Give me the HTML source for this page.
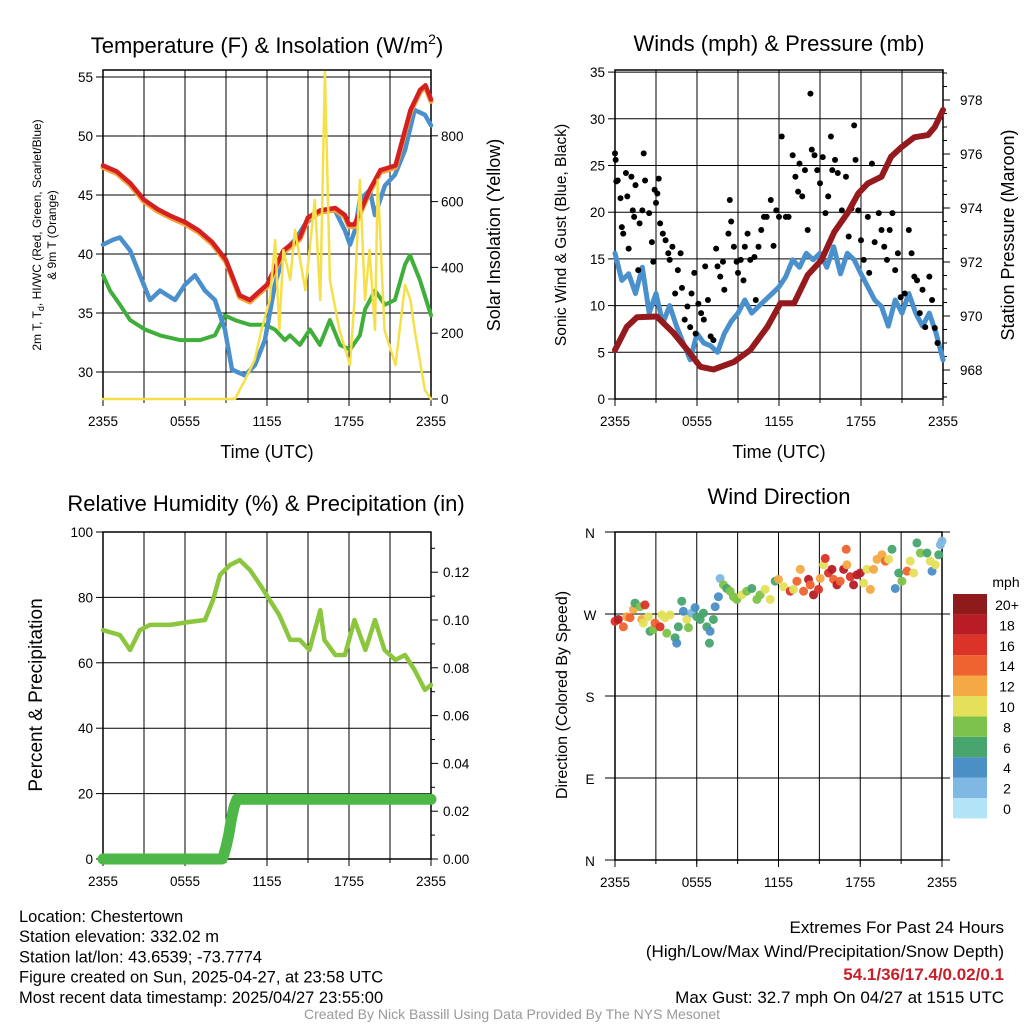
<!DOCTYPE html>
<html><head><meta charset="utf-8"><style>
body{margin:0;background:#fff;width:1024px;height:1024px;overflow:hidden;font-family:"Liberation Sans",sans-serif}
svg{display:block}
</style></head><body>
<svg id="s" width="1024" height="1024" xmlns="http://www.w3.org/2000/svg" font-family="Liberation Sans, sans-serif"></svg>
<script>
// ---- Temperature panel data (hours since 2355) ----
const redH=[0,1,2,3,4,5,6,7,8,9,10,10.75,12,13.2,14.4,15,15.9,17,17.7,18,18.4,19.5,20.3,21.4,22.5,23.2,23.6,24];
const redV=[47.5,47,46,44.6,43.8,43.2,42.7,42,41,39.5,36.5,36.1,37.4,40.3,41.4,43.1,43.7,43.9,43.3,42.5,42.5,45.4,47.1,47.5,52.2,53.9,54.3,53.1];
const blueH=[0,0.73,1.24,1.98,2.7,3.44,4.17,5.27,6,6.73,7.46,8.19,8.92,9.44,10.39,11.12,11.85,12.58,13.31,14.05,14.78,15.5,16.24,16.97,17.7,18.07,18.43,18.8,19.53,19.9,20.63,21.36,22.1,22.8,23.55,24];
const blueV=[40.8,41.2,41.4,40.3,38.2,36.1,36.9,36.1,37.4,38.2,36.9,36.1,33.6,30.2,29.7,30.6,32.7,37.4,40.3,41.2,42.5,43.3,43.7,43.7,42,40.8,42,44.6,45.4,43.3,45.8,46.7,48.8,52.2,51.8,50.9];
const greenH=[0,0.51,1.24,1.98,3.07,4.17,5.63,7.1,8.19,8.92,9.66,10.75,11.85,12.58,13.31,13.68,14.41,15.14,15.87,16.6,17.34,18.07,18.8,19.17,19.9,20.63,21.36,22.1,22.46,23.19,24];
const greenV=[38.2,36.9,35.7,34.4,33.6,33.1,32.7,32.7,33.1,34.8,34.4,34,34,33.6,32.7,33.1,32.3,33.6,32.3,34.4,32.3,31.9,33.1,35.3,36.9,35.7,36.1,39.1,39.9,37.8,34.8];
const solarH=[0,9.66,10.39,11.1,11.6,12.2,12.6,12.9,13.2,13.7,14.05,14.8,15.5,15.9,16.24,16.6,17.3,18.07,18.4,18.8,19.17,19.5,19.9,20.1,20.6,21.4,22.1,22.5,22.8,23.55,24];
const solarV=[0,0,58,119,210,301,483,210,453,362,514,331,605,301,994,362,210,103,301,666,301,453,210,666,210,103,347,301,210,27,0];
// ---- Wind panel ----
const windH=[0,0.5,1,1.5,2,2.5,3,3.5,4,4.5,5,5.5,6,6.5,7,7.5,8,8.5,9,9.5,10,10.5,11,11.5,12,12.5,13,13.5,14,14.5,15,15.5,16,16.5,17,17.5,18,18.5,19,19.5,20,20.5,21,21.5,22,22.5,23,23.5,24];
const windV=[15.6,12.7,13.4,11.3,14.1,9.2,11.3,8.1,10,7.8,6,4.2,7,6,5.7,5,7,8.3,9.2,10.6,9.2,9.9,10.6,11.3,12,13.1,14.9,14.1,15.6,14.9,15.6,14.1,16.3,13.4,15.6,14.9,13.4,12,10.6,9.9,7.8,10.6,9.2,11.3,9.2,7.8,9.2,7,4.2];
const gustH=[0,0.05,0.1,0.2,0.4,0.5,0.6,0.8,0.9,1,1.2,1.3,1.4,1.5,1.7,1.8,2,2.1,2.2,2.5,2.7,2.8,2.9,3,3.1,3.2,3.3,3.5,3.7,3.9,4,4.2,4.4,4.6,4.8,4.9,5.1,5.3,5.5,5.6,5.8,5.9,6.1,6.3,6.5,6.6,6.8,7,7.2,7.4,7.5,7.7,7.9,8,8.3,8.4,8.5,8.7,8.9,9,9.2,9.4,9.5,9.7,9.9,10.2,10.3,10.5,10.7,10.9,11.1,11.4,11.6,11.8,12,12.2,12.5,12.7,13,13.2,13.4,13.5,13.7,13.9,14.1,14.3,14.4,14.6,14.8,15,15.2,15.4,15.6,15.8,15.9,16.1,16.3,16.6,16.9,17.1,17.3,17.5,17.6,17.8,18,18.2,18.5,18.6,18.8,19,19.3,19.5,19.7,19.9,20.1,20.3,20.5,20.7,20.9,21.2,21.5,21.7,21.9,22.1,22.3,22.5,22.7,23,23.2,23.4,23.6];
const gustV=[26.3,25.6,23.3,23.4,21.5,18.4,17.7,24.2,21.7,16.1,23.8,20.2,19.5,22.9,13.8,18.8,20.2,26.3,23.4,19.9,16.8,14.7,22.4,21,22,23.6,18.8,17.7,17,15.6,14.9,16.3,11.3,13.8,15.6,11.9,8.5,9.9,7.7,11.3,13.5,7,10.2,9.2,8.5,14.2,10.6,6.7,6.3,16.1,14.2,13.1,14.7,11.7,17.7,21.3,19,16.3,14.7,13.5,14.9,12.7,16.3,17.7,14.9,15.2,10.6,16.3,18.1,19.5,19.5,21.3,16.4,20.2,19.5,28.1,19.5,19.5,26.1,23.8,22.2,25.2,21.7,24.5,18.1,32.7,26.7,26.1,24.5,23.1,25.9,19.9,21.7,28.1,24.5,25.6,24.2,20.2,23.8,17.4,20.4,29.3,25.6,20.2,17,14.9,19.5,13.5,25.2,16.8,19.9,18.1,16.3,14.9,18.1,19.9,13.8,15.6,10.9,11.3,18.1,15.6,13.1,12.7,9.2,11.7,7.7,13.1,10.6,7.6,6];
const presH=[0,0.86,1.6,3.06,4.3,5.3,6.25,7.2,8.7,9.9,11.15,12.1,13.1,14.1,15.1,16.05,17,17.8,18.5,19.5,20.2,21,21.9,22.9,23.4,24];
const presV=[968.74,969.6,969.95,969.98,969.36,968.74,968.12,968.02,968.3,968.74,969.6,970.47,970.47,971.52,972.07,973.12,973.8,974.54,974.91,975.16,975.9,976.27,976.62,976.7,977,977.63];
// ---- RH / precip ----
const rhH=[0,1.24,1.98,2.7,3.44,4.9,6.36,7.46,8.05,8.56,9.29,10,10.75,11.5,12.2,12.9,13.7,14.4,15.1,15.9,16.2,17,17.7,18.4,19.2,19.9,20.6,21.4,22.1,22.8,23.55,24];
const rhV=[70,68.5,63.9,70,71.6,71.6,72.5,73.1,79.2,86.9,89.9,91.4,88.4,83.8,79.2,74.6,67,67,63.9,76.1,67,62.4,62.4,73.1,63.9,73.1,63.9,60.9,62.4,57.8,51.7,53.2];
const prH=[0,8.7,8.8,9,9.2,9.4,9.6,9.8,24];
const prV=[0,0,0.001,0.005,0.01,0.017,0.022,0.025,0.025];
// ---- Wind direction ----
const dirH=[0,0.24,0.61,0.86,1.1,1.35,1.47,1.84,2.2,1.96,2.08,2.45,2.57,2.82,2.94,3.31,3.43,3.67,3.8,4.04,4.41,4.53,4.65,4.9,5.02,5.27,5.39,5.63,5.88,6,6.25,6.49,6.74,6.98,6.93,7.22,7.35,7.59,7.71,7.96,8.2,8.45,8.69,8.94,9.31,9.67,10.04,10.41,10.65,11.02,11.39,11.76,12,12.37,12.86,13.1,13.35,13.6,13.84,14.2,14.33,14.57,14.94,15.06,15.31,15.43,15.67,15.92,16.04,16.29,16.53,16.78,16.97,17.02,17.27,17.51,17.76,18,18.25,18.49,18.74,18.98,19.23,19.59,19.84,20.08,20.33,20.57,20.82,21.06,21.43,21.67,21.92,22.16,22.41,22.9,23.14,23.27,23.51,23.76,24,23.88];
const dirV=[262,264,256,267,266,275,282,278,280,264,260,267,251,253,260,256,269,266,249,269,244,238,256,284,273,264,255,271,277,267,264,271,256,251,238,264,278,289,309,302,298,295,289,286,291,295,298,286,291,297,286,306,308,300,295,297,306,319,295,308,302,291,297,309,324,331,315,319,308,302,306,319,341,324,311,302,313,315,304,319,297,319,330,335,328,330,341,298,315,306,317,328,315,348,337,337,328,317,324,335,350,346];
const dirS=[16,18,14,13,14,12,6,8,16,12,11,10,7,8,14,16,10,11,8,10,6,4,7,6,4,10,8,3,4,6,6,7,6,4,6,7,4,4,2,8,7,8,8,9,10,9,7,8,9,10,10,7,12,10,17,11,14,12,14,18,15,18,16,12,10,17,16,18,14,18,15,18,14,12,17,18,18,18,10,11,12,12,12,12,14,10,6,4,7,8,15,10,10,7,8,6,10,4,10,7,3,2];
const scaleLabels=["0","2","4","6","8","10","12","14","16","18","20+"];
const scaleColors=["#b3e3f7","#7fb8e2","#4a8fc6","#48a56e","#7dc24a","#e4e05a","#f5a945","#ef6330","#dc3328","#b81c25","#8e1a1c"];
const xTicks=["2355","0555","1155","1755","2355"];

const S=document.getElementById('s');
const NS='http://www.w3.org/2000/svg';
function mk(tag,attrs,parent){const e=document.createElementNS(NS,tag);for(const k in attrs)e.setAttribute(k,attrs[k]);(parent||S).appendChild(e);return e;}
function txt(x,y,s,size,anchor,parent,extra){const t=mk('text',Object.assign({x:x,y:y,'font-size':size,'text-anchor':anchor||'middle',fill:'#000'},extra||{}),parent);t.textContent=s;return t;}

function panel(name,L,T,R,B){
  const g=mk('g',{});
  
  
  const xs=h=>L+(R-L)*h/24;
  for(let i=0;i<=8;i++){const x=xs(i*3);const l=mk('line',{x1:x,x2:x,y1:T,y2:B,stroke:'#000','stroke-width':1},g);}
  xTicks.forEach((s,i)=>{const t=txt(xs(i*6),B+27,s,13.5,'middle',g);
    mk('line',{x1:xs(i*6),x2:xs(i*6),y1:B,y2:B+7,stroke:'#000'},g);});
  for(let i=0;i<=8;i++)mk('line',{x1:xs(i*3),x2:xs(i*3),y1:B,y2:B+4,stroke:'#000'},g);
  mk('rect',{x:L,y:T,width:R-L,height:B-T,fill:'none',stroke:'#000','stroke-width':1.5},g);
  return {g,xs};
}
function path(g,xs,ys,H,V,attrs,name){let d='';H.forEach((h,i)=>{d+=(i?'L':'M')+xs(h).toFixed(1)+','+ys(V[i]).toFixed(1);});
  const p=mk('path',Object.assign({d:d,fill:'none','stroke-linejoin':'round','stroke-linecap':'round'},attrs),g);
  
  return p;}

// ===== Panel 1: Temperature =====
(function(){
  const L=103,T=70,R=431,B=399;const P=panel('temperature-panel',L,T,R,B);const g=P.g,xs=P.xs;
  const ys=v=>372-(v-30)*11.8;const ysol=v=>399-v*0.329;
  [30,35,40,45,50,55].forEach(v=>{mk('line',{x1:L,x2:R,y1:ys(v),y2:ys(v),stroke:'#000'},g);mk('line',{x1:L-7,x2:L,y1:ys(v),y2:ys(v),stroke:'#000'},g);
    const t=txt(L-10,ys(v)+5,String(v),13.5,'end',g);});
  [0,200,400,600,800].forEach(v=>{mk('line',{x1:R,x2:R+7,y1:ysol(v),y2:ysol(v),stroke:'#000'},g);
    const t=txt(R+10,ysol(v)+5,String(v),13.5,'start',g);});
  path(g,xs,ys,greenH,greenV,{stroke:'#3fae3a','stroke-width':4},'green-temp-line');
  path(g,xs,ys,blueH,blueV,{stroke:'#4a90cc','stroke-width':4.5},'blue-temp-line');
  path(g,xs,v=>ys(v)+2,redH,redV,{stroke:'#f5a23a','stroke-width':5},'orange-9m-temp-line');
  path(g,xs,ys,redH,redV,{stroke:'#d42020','stroke-width':4.5},'red-2m-temp-line');
  path(g,xs,ysol,solarH,solarV,{stroke:'#f6e04a','stroke-width':2.5},'solar-insolation-line');
  const t1=mk('text',{x:267,y:53,'font-size':22,'text-anchor':'middle'},S);t1.innerHTML='Temperature (F) &amp; Insolation (W/m<tspan dy="-9" font-size="14">2</tspan><tspan dy="9">)</tspan>';
  
  const xt=txt(267,458,'Time (UTC)',18,'middle');
  const yt=mk('text',{transform:'translate(41,235) rotate(-90)','font-size':12,'text-anchor':'middle'});yt.innerHTML='2m T, T<tspan dy="3" font-size="9">d</tspan><tspan dy="-3">, HI/WC (Red, Green, Scarlet/Blue)</tspan>';
  
  const yt2=txt(0,0,'& 9m T (Orange)',12,'middle',S,{transform:'translate(56,235) rotate(-90)'});
  const yr=txt(0,0,'Solar Insolation (Yellow)',18,'middle',S,{transform:'translate(500,235) rotate(-90)'});
})();

// ===== Panel 2: Winds & Pressure =====
(function(){
  const L=615,T=70,R=943,B=399;const P=panel('wind-panel',L,T,R,B);const g=P.g,xs=P.xs;
  const ys=v=>399-v*9.34;const yp=v=>370-(v-968)*27;
  [0,5,10,15,20,25,30,35].forEach(v=>{mk('line',{x1:L,x2:R,y1:ys(v),y2:ys(v),stroke:'#000'},g);mk('line',{x1:L-7,x2:L,y1:ys(v),y2:ys(v),stroke:'#000'},g);
    const t=txt(L-10,ys(v)+5,String(v),13.5,'end',g);});
  for(let v=967;v<=979;v+=0.5){mk('line',{x1:R,x2:R+(v%2===0?7:4),y1:yp(v),y2:yp(v),stroke:'#000'},g);}
  [968,970,972,974,976,978].forEach(v=>{const t=txt(R+17,yp(v)+5,String(v),13.5,'start',g);});
  path(g,xs,ys,windH,windV,{stroke:'#4a90cc','stroke-width':5},'sonic-wind-line');
  gustH.forEach((h,i)=>{const c=mk('circle',{cx:xs(h),cy:ys(gustV[i]),r:3,fill:'#000'},g);
    
    });
  path(g,xs,yp,presH,presV,{stroke:'#951a1d','stroke-width':6},'pressure-line');
  const t1=txt(779,51,'Winds (mph) & Pressure (mb)',22);
  const xt=txt(779,458,'Time (UTC)',18);
  const yl=txt(0,0,'Sonic Wind & Gust (Blue, Black)',15.5,'middle',S,{transform:'translate(566,235) rotate(-90)'});
  const yr=txt(0,0,'Station Pressure (Maroon)',18,'middle',S,{transform:'translate(1014,235) rotate(-90)'});
})();

// ===== Panel 3: RH & Precip =====
(function(){
  const L=103,T=532,R=431,B=859;const P=panel('humidity-panel',L,T,R,B);const g=P.g,xs=P.xs;
  const ys=v=>859-v*3.27;const ypr=v=>859-v*2390;
  [0,20,40,60,80,100].forEach(v=>{mk('line',{x1:L,x2:R,y1:ys(v),y2:ys(v),stroke:'#000'},g);mk('line',{x1:L-7,x2:L,y1:ys(v),y2:ys(v),stroke:'#000'},g);
    const t=txt(L-10,ys(v)+5,String(v),13.5,'end',g);});
  for(let v=0;v<=0.13;v+=0.01){mk('line',{x1:R,x2:R+(Math.round(v*100)%2===0?7:4),y1:ypr(v),y2:ypr(v),stroke:'#000'},g);}
  [0,0.02,0.04,0.06,0.08,0.10,0.12].forEach(v=>{const t=txt(R+12,ypr(v)+5,v.toFixed(2),13.5,'start',g);});
  path(g,xs,ys,rhH,rhV,{stroke:'#8cc63f','stroke-width':4.5},'rh-line');
  path(g,xs,ypr,prH,prV,{stroke:'#4db848','stroke-width':11},'precip-line');
  const t1=txt(266,511,'Relative Humidity (%) & Precipitation (in)',22);
  const yl=txt(0,0,'Percent & Precipitation',19,'middle',S,{transform:'translate(42,695) rotate(-90)'});
})();

// ===== Panel 4: Wind direction =====
(function(){
  const L=615,T=532,R=942,B=860;const P=panel('wind-direction-panel',L,T,R,B);const g=P.g,xs=P.xs;
  const ys=d=>860-d*(B-T)/360;
  [[360,'N'],[270,'W'],[180,'S'],[90,'E'],[0,'N']].forEach(a=>{mk('line',{x1:L-10,x2:R+8,y1:ys(a[0]),y2:ys(a[0]),stroke:'#000'},g);
    const t=txt(L-25,ys(a[0])+6,a[1],13.5,'middle',g);});
  dirH.forEach((h,i)=>{const ci=Math.min(10,Math.floor(dirS[i]/2));
    const c=mk('circle',{cx:xs(h),cy:ys(dirV[i]),r:4.5,fill:scaleColors[ci],'fill-opacity':0.95},g);
    
    });
  const lg=mk('g',{});
  scaleColors.forEach((c,i)=>{const y=798-i*20.4;mk('rect',{x:953,y:y,width:34,height:20.4,fill:c},lg);
    const t=txt(1007,y+16,scaleLabels[i],14,'middle',lg);});
  txt(1006,587,'mph',14,'middle',lg);
  const t1=txt(779,504,'Wind Direction',22);
  const yl=txt(0,0,'Direction (Colored By Speed)',16,'middle',S,{transform:'translate(567,695) rotate(-90)'});
})();

// ===== Footer text =====
const info=["Location: Chestertown","Station elevation: 332.02 m","Station lat/lon: 43.6539; -73.7774","Figure created on Sun, 2025-04-27, at 23:58 UTC","Most recent data timestamp: 2025/04/27 23:55:00"];
info.forEach((s,i)=>{const t=txt(19,922+i*20.2,s,16.5,'start');});
[["Extremes For Past 24 Hours",933,'#000','normal'],["(High/Low/Max Wind/Precipitation/Snow Depth)",957,'#000','normal'],["54.1/36/17.4/0.02/0.1",980,'#c8202a','bold'],["Max Gust: 32.7 mph On 04/27 at 1515 UTC",1003,'#000','normal']].forEach(a=>{
  const t=txt(1004,a[1],a[0],17,'end',S,{fill:a[2],'font-weight':a[3]});});
const cr=txt(512,1019,'Created By Nick Bassill Using Data Provided By The NYS Mesonet',14,'middle',S,{fill:'#999'});
</script>
</body></html>
